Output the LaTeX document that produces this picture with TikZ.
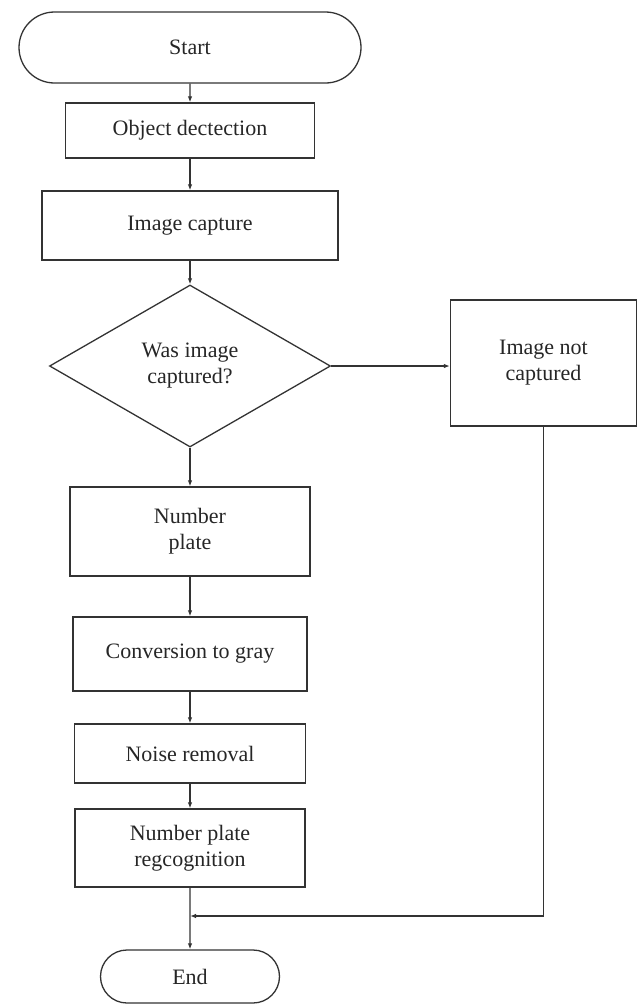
\documentclass[tikz,border=0pt]{standalone}
\usepackage{fontspec}
\setmainfont{Liberation Serif}
\usepackage{xcolor}
\usepackage{tikz}
\usetikzlibrary{arrows.meta,positioning,calc,shapes.geometric,shapes.misc}

\begin{document}
\begin{tikzpicture}[
  x=1pt, y=-1pt,
  box/.style={draw=black!80, line width=1.3pt, align=center, inner sep=0pt, text=black!85, font=\fontsize{22}{26}\selectfont},
  term/.style={box, rounded rectangle},
  decision/.style={box, diamond, aspect=1.73},
  arrow/.style={-{Latex[length=6pt,width=4.5pt]}, line width=1.2pt, draw=black!80}
]
\useasboundingbox (0,0) rectangle (638,1005);
\node[term, minimum width=342pt, minimum height=71pt] (start) at (190,47.5) {Start};
\node[box, minimum width=249pt, minimum height=55pt] (detect) at (190,130.5) {Object dectection};
\node[box, minimum width=296pt, minimum height=69pt] (capture) at (190,225.5) {Image capture};
\node[decision, minimum width=281pt, minimum height=162pt] (check) at (190,366) {Was image\\captured?};
\node[box, minimum width=186pt, minimum height=126pt] (notcap) at (543.5,363) {Image not\\captured};
\node[box, minimum width=240pt, minimum height=89pt] (plate) at (190,531.5) {Number\\plate};
\node[box, minimum width=234pt, minimum height=74pt] (gray) at (190,654) {Conversion to gray};
\node[box, minimum width=231pt, minimum height=59pt] (noise) at (190,753.5) {Noise removal};
\node[box, minimum width=230pt, minimum height=78pt] (recog) at (190,848) {Number plate\\regcognition};
\node[term, minimum width=179pt, minimum height=53pt] (end) at (190,976.5) {End};
\coordinate (join) at (190,916);

\draw[arrow] (start) -- (detect);
\draw[arrow] (detect) -- (capture);
\draw[arrow] (capture) -- (check);
\draw[arrow] (check.east) -- (notcap.west |- check.east);
\draw[arrow] (check) -- (plate);
\draw[arrow] (plate) -- (gray);
\draw[arrow] (gray) -- (noise);
\draw[arrow] (noise) -- (recog);
\draw[arrow] (recog) -- (end);
\draw[arrow] (notcap.south) |- (join);
\end{tikzpicture}
\end{document}
